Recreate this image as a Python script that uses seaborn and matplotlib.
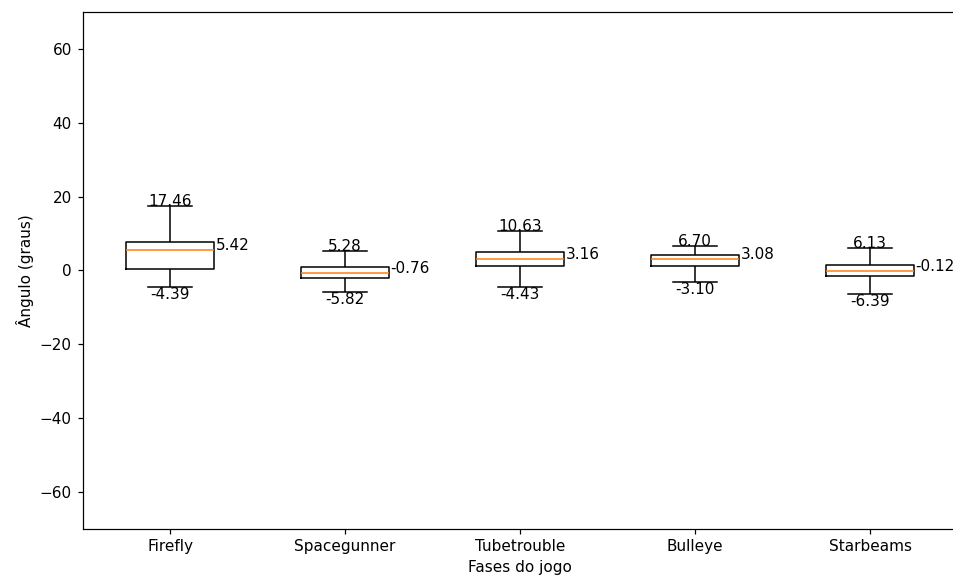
import matplotlib
matplotlib.use('Agg')
import pandas as pd
import seaborn as sns
import numpy as np
import matplotlib.pyplot as plt

# five-number summaries (whiskers = min / max)
fases = ["Firefly", "Spacegunner", "Tubetrouble", "Bulleye", "Starbeams"]
minimo = [-4.39, -5.82, -4.43, -3.10, -6.39]
q1 = [0.4, -2.15, 1.15, 1.2, -1.6]
mediana = [5.42, -0.76, 3.16, 3.08, -0.12]
q3 = [7.6, 0.8, 5.0, 4.2, 1.4]
maximo = [17.46, 5.28, 10.63, 6.70, 6.13]

linhas = []
for i, f in enumerate(fases):
    for v in (minimo[i], q1[i], mediana[i], q3[i], maximo[i]):
        linhas.append({"fase": f, "angulo": v})
df = pd.DataFrame(linhas)

fig = plt.figure(figsize=(954 / 110, 588 / 110), dpi=110)
ax = fig.add_axes([0.0865, 0.1009, 0.9172, 0.8787])

sns.boxplot(data=df, x="fase", y="angulo", order=fases, color="black",
            fill=False, width=0.5, whis=(0, 100), linewidth=1,
            capwidths=0.25, medianprops={"color": "#ff7f0e"}, ax=ax)

for i in range(len(fases)):
    ax.text(i, maximo[i], "%.2f" % maximo[i], ha="center", va="baseline")
    ax.text(i, minimo[i], "%.2f" % minimo[i], ha="center", va="top")
    ax.text(i + 0.26, mediana[i], "%.2f" % mediana[i], ha="left", va="baseline")

ax.set_xlim(-0.5, 4.5)
ax.set_ylim(-70, 70)
ax.set_yticks([-60, -40, -20, 0, 20, 40, 60])
ax.set_xlabel("Fases do jogo")
ax.set_ylabel("Ângulo (graus)")
# the reference image is cropped just before the right spine
ax.spines["right"].set_visible(False)

fig.savefig("out.png", dpi=110)
